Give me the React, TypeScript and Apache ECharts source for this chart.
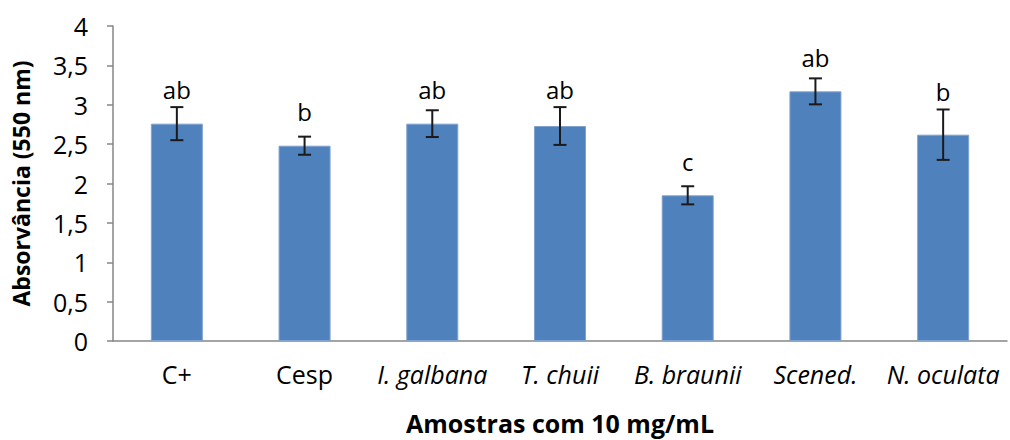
import React, { useEffect, useRef } from "react";
import * as echarts from "echarts";

// Samples tested at 10 mg/mL
const categories = ["C+", "Cesp", "I. galbana", "T. chuii", "B. braunii", "Scened.", "N. oculata"];
const italicCategories = [false, false, true, true, true, true, true];
// Mean absorbance at 550 nm
const means = [2.76, 2.48, 2.76, 2.73, 1.85, 3.17, 2.62];
// Error bar half-widths (±)
const errors = [0.21, 0.115, 0.17, 0.24, 0.115, 0.165, 0.32];
// Significance letters
const letters = ["ab", "b", "ab", "ab", "c", "ab", "b"];
const yTicks = [0, 0.5, 1, 1.5, 2, 2.5, 3, 3.5, 4];

const FONT = "'Open Sans', Lato, sans-serif";
const BAR_COLOR = "#4F81BD";

export default function App() {
  const ref = useRef<HTMLDivElement>(null);

  useEffect(() => {
    if (!ref.current) return;
    const chart = echarts.init(ref.current, null, { renderer: "svg" });

    const errorData = means.map((m, i) => [i, m, m - errors[i], m + errors[i]]);

    chart.setOption({
      animation: false,
      backgroundColor: "#ffffff",
      grid: { left: 113, right: 3, top: 26, bottom: 99, containLabel: false },
      xAxis: {
        type: "category",
        data: categories,
        name: "Amostras com 10 mg/mL",
        nameLocation: "middle",
        nameGap: 69,
        nameTextStyle: { fontFamily: FONT, fontSize: 25, fontWeight: "bold", color: "#000" },
        axisLine: { lineStyle: { color: "#868686", width: 1.5 } },
        axisTick: { show: false },
        axisLabel: {
          interval: 0,
          margin: 20,
          fontFamily: FONT,
          fontSize: 25,
          color: "#000",
          formatter: (v: string) => {
            const i = categories.indexOf(v);
            return italicCategories[i] ? "{it|" + v + "}" : v;
          },
          rich: { it: { fontStyle: "italic", fontFamily: FONT, fontSize: 25, color: "#000" } },
        },
      },
      yAxis: {
        type: "value",
        min: yTicks[0],
        max: yTicks[yTicks.length - 1],
        interval: 0.5,
        name: "Absorvância (550 nm)",
        nameLocation: "middle",
        nameGap: 81,
        nameRotate: 90,
        nameTextStyle: { fontFamily: FONT, fontSize: 23, fontWeight: "bold", color: "#000" },
        axisLine: { show: true, lineStyle: { color: "#868686", width: 1.5 } },
        axisTick: { show: true, length: 6, lineStyle: { color: "#868686", width: 1.5 } },
        splitLine: { show: false },
        axisLabel: {
          margin: 25,
          fontFamily: FONT,
          fontSize: 25,
          color: "#000",
          formatter: (v: number) => String(v).replace(".", ","),
        },
      },
      series: [
        {
          type: "bar",
          data: means,
          barWidth: 52,
          itemStyle: { color: BAR_COLOR, borderColor: "#7FA2CF", borderWidth: 1 },
        },
        {
          type: "custom",
          data: errorData,
          z: 10,
          renderItem: (params: any, api: any) => {
            const i = api.value(0);
            const top = api.coord([i, api.value(1)]);
            const lo = api.coord([i, api.value(2)]);
            const hi = api.coord([i, api.value(3)]);
            const half = 6.5;
            const style = { stroke: "#1a1a1a", lineWidth: 2 };
            // letter sits above the bar, clear of the error bar cap
            const baseY = Math.min(top[1] - 28, hi[1] - 12);
            return {
              type: "group",
              children: [
                { type: "line", shape: { x1: hi[0], y1: hi[1], x2: lo[0], y2: lo[1] }, style },
                { type: "line", shape: { x1: hi[0] - half, y1: hi[1], x2: hi[0] + half, y2: hi[1] }, style },
                { type: "line", shape: { x1: lo[0] - half, y1: lo[1], x2: lo[0] + half, y2: lo[1] }, style },
                {
                  type: "text",
                  x: hi[0],
                  y: baseY + 6,
                  style: {
                    text: letters[params.dataIndex],
                    fontFamily: FONT,
                    fontSize: 24,
                    fill: "#000",
                    align: "center",
                    verticalAlign: "bottom",
                  },
                },
              ],
            };
          },
        },
      ],
    });

    return () => chart.dispose();
  }, []);

  return (
    <div
      ref={ref}
      style={{ position: "fixed", left: 0, top: 0, width: 1010, height: 440, background: "#fff" }}
    />
  );
}
